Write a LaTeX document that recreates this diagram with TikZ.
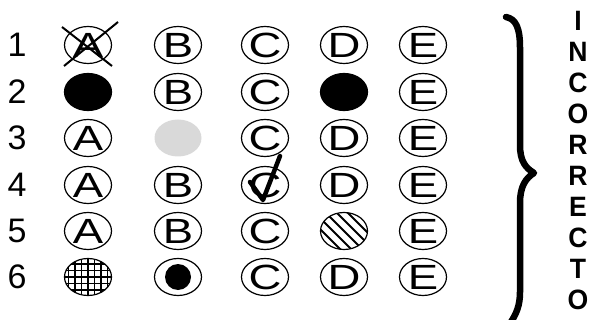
\documentclass[tikz,border=0pt]{standalone}
\usepackage{fontspec}
\setmainfont{Liberation Sans}
\usetikzlibrary{shapes.geometric}
\newcommand\bubtxt[1]{\scalebox{1.3}[1]{\fontsize{35}{35}\selectfont #1}}
\begin{document}
\begin{tikzpicture}[x=1pt,y=-1pt,
  bubble/.style={ellipse, draw, line width=1.2pt, minimum width=47pt, minimum height=37pt, inner sep=0pt},
  solid bubble/.style={bubble, fill=black},
  numlab/.style={font=\fontsize{34}{34}\selectfont, inner sep=0pt},
  vlet/.style={font=\fontsize{28}{28}\selectfont\bfseries, xscale=0.95, inner sep=0pt},
  brace/.style={line width=6.5pt, line cap=round, line join=round}]
\useasboundingbox (0,0) rectangle (593,320);
% row labels
\node[numlab] (n1) at (17,45) {1};
\node[numlab] (n2) at (17,92) {2};
\node[numlab] (n3) at (17,138) {3};
\node[numlab] (n4) at (17,185) {4};
\node[numlab] (n5) at (17,231) {5};
\node[numlab] (n6) at (17,277) {6};
% row 1
\node[bubble] (a1) at (88,45) {\bubtxt{A}};
\node[bubble] (b1) at (178,45) {\bubtxt{B}};
\node[bubble] (c1) at (265,45) {\bubtxt{C}};
\node[bubble] (d1) at (344,45) {\bubtxt{D}};
\node[bubble] (e1) at (423,45) {\bubtxt{E}};
\draw[line width=2pt] ([shift={(-26,-18)}]a1.center) -- ([shift={(24,21)}]a1.center);
\draw[line width=2pt] ([shift={(30,-23)}]a1.center) -- ([shift={(-24,21)}]a1.center);
% row 2
\node[solid bubble] (a2) at (88,92) {};
\node[bubble] (b2) at (178,92) {\bubtxt{B}};
\node[bubble] (c2) at (265,92) {\bubtxt{C}};
\node[solid bubble] (d2) at (344,92) {};
\node[bubble] (e2) at (423,92) {\bubtxt{E}};
% row 3
\node[bubble] (a3) at (88,138) {\bubtxt{A}};
\node[bubble, draw=none, fill=black!15] (b3) at (178,138) {};
\node[bubble] (c3) at (265,138) {\bubtxt{C}};
\node[bubble] (d3) at (344,138) {\bubtxt{D}};
\node[bubble] (e3) at (423,138) {\bubtxt{E}};
% row 4
\node[bubble] (a4) at (88,185) {\bubtxt{A}};
\node[bubble] (b4) at (178,185) {\bubtxt{B}};
\node[bubble] (c4) at (265,185) {\bubtxt{C}};
\node[bubble] (d4) at (344,185) {\bubtxt{D}};
\node[bubble] (e4) at (423,185) {\bubtxt{E}};
\draw[line width=4.5pt, line join=round, line cap=round]
  ([shift={(-15,-3)}]c4.center) -- ([shift={(-2,15)}]c4.center) -- ([shift={(15,-29)}]c4.center);
% row 5
\node[bubble] (a5) at (88,231) {\bubtxt{A}};
\node[bubble] (b5) at (178,231) {\bubtxt{B}};
\node[bubble] (c5) at (265,231) {\bubtxt{C}};
\node[bubble] (d5) at (344,231) {};
\node[bubble] (e5) at (423,231) {\bubtxt{E}};
\begin{scope}[shift={(d5.center)}]
  \clip (0,0) ellipse (23.5 and 18.5);
  \foreach \k in {-4,...,4}
    \draw[line width=2pt] (\k*11-30,-30) -- ++(60,60);
\end{scope}
% row 6
\node[bubble] (a6) at (88,277) {};
\begin{scope}[shift={(a6.center)}]
  \clip (0,0) ellipse (23.5 and 18.5);
  \foreach \k in {-3,...,3}
    \draw[line width=1.1pt] (\k*6.5,-20) -- (\k*6.5,20);
  \foreach \k in {-3,...,3}
    \draw[line width=1.1pt] (-25,\k*6.5) -- (25,\k*6.5);
\end{scope}
\node[bubble] (b6) at (178,277) {};
\fill (b6.center) circle (13);
\node[bubble] (c6) at (265,277) {\bubtxt{C}};
\node[bubble] (d6) at (344,277) {\bubtxt{D}};
\node[bubble] (e6) at (423,277) {\bubtxt{E}};
% brace
\draw[brace] (506,17) .. controls (516,19) and (520,28) .. (520,48) -- (520,145)
  .. controls (520,162) and (526,168) .. (534,173)
  .. controls (526,178) and (520,186) .. (520,203) -- (520,292)
  .. controls (520,306) and (516,314) .. (511,322);
% vertical word
\node[vlet] (v1) at (578,21) {I};
\node[vlet] (v2) at (578,52) {N};
\node[vlet] (v3) at (578,83) {C};
\node[vlet] (v4) at (578,114) {O};
\node[vlet] (v5) at (578,145) {R};
\node[vlet] (v6) at (578,176) {R};
\node[vlet] (v7) at (578,207) {E};
\node[vlet] (v8) at (578,238) {C};
\node[vlet] (v9) at (578,269) {T};
\node[vlet] (v10) at (578,300) {O};
\end{tikzpicture}
\end{document}
